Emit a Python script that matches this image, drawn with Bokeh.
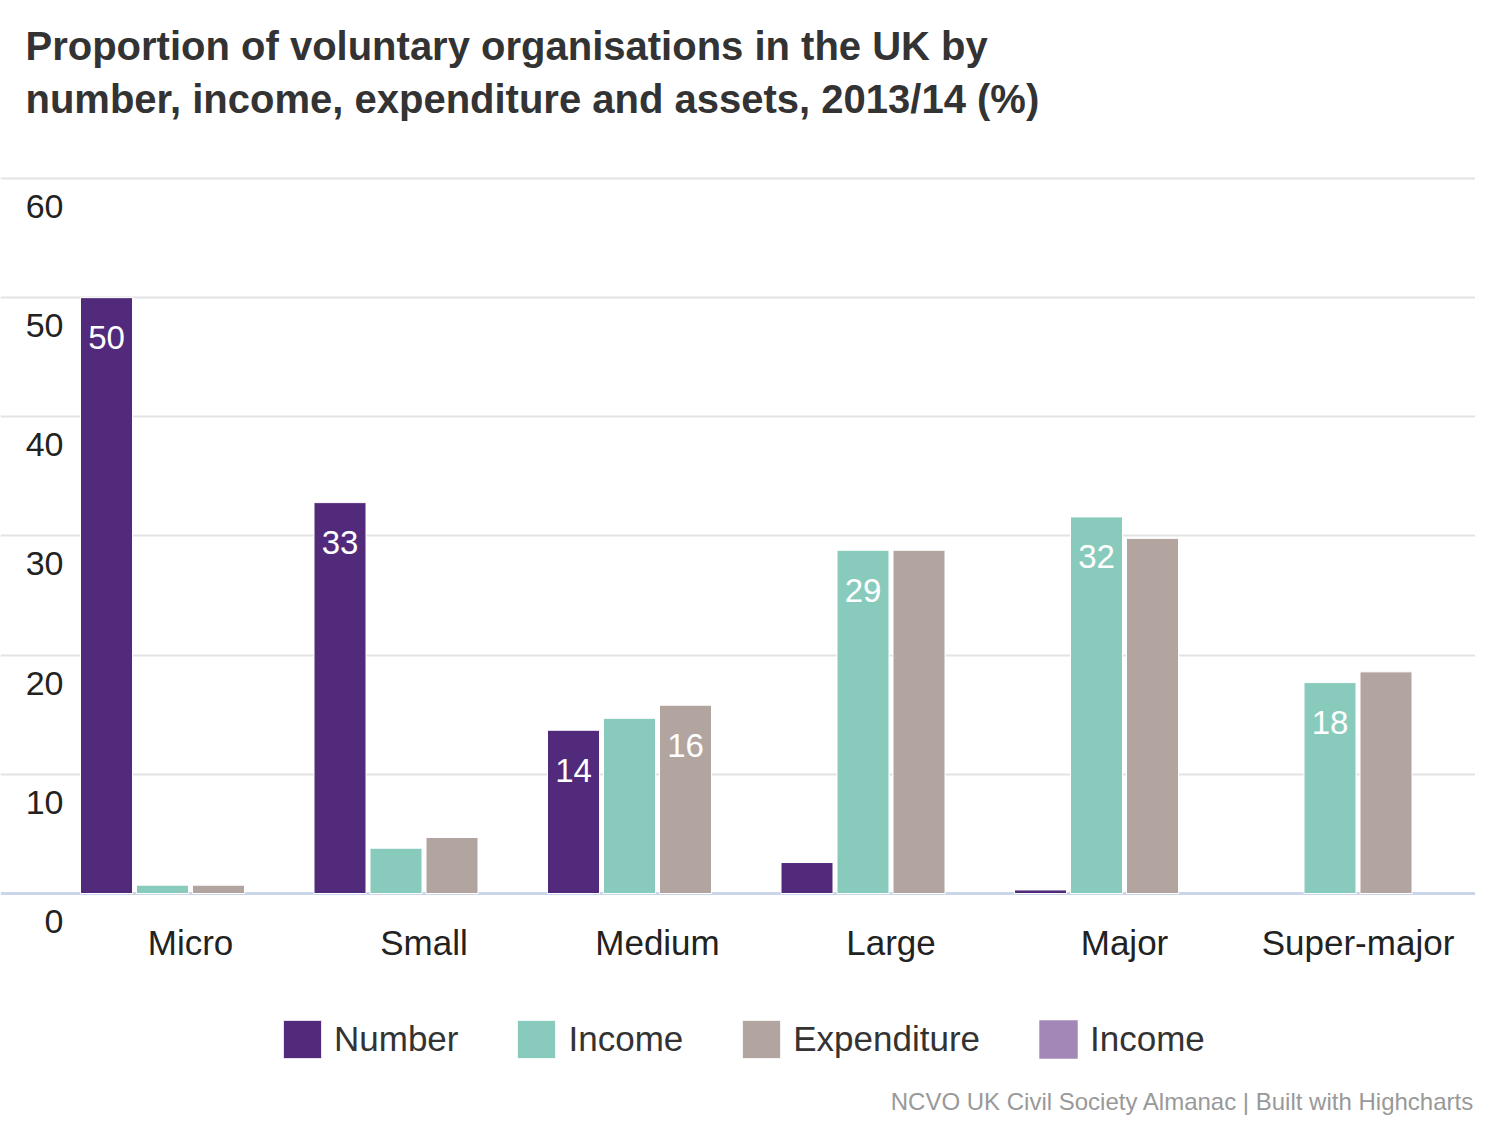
from bokeh.plotting import figure
from bokeh.models import ColumnDataSource, Range1d, Grid, FixedTicker, Span, Legend, LegendItem
from bokeh.transform import dodge
from bokeh.core.properties import value
from bokeh.embed import file_html
from bokeh.resources import INLINE

# ---------------- data ----------------
categories = ["Micro", "Small", "Medium", "Large", "Major", "Super-major"]
number = [50.0, 32.8, 13.7, 2.6, 0.3, 0.0]
income = [0.7, 3.8, 14.7, 28.8, 31.6, 17.7]
expenditure = [0.7, 4.7, 15.8, 28.8, 29.8, 18.6]
assets = [0.0, 0.0, 0.0, 0.0, 0.0, 0.0]
series_names = ["Number", "Income", "Expenditure", "Income"]
series_colors = ["#512a7c", "#88cbbd", "#b2a59f", "#a387b7"]
y_ticks = [0, 10, 20, 30, 40, 50, 60]
# data labels that are displayed: (series index, category index, text)
label_series = [0, 0, 0, 2, 1, 1, 1]
label_cats = [0, 1, 2, 2, 3, 4, 5]
label_texts = ["50", "33", "14", "16", "29", "32", "18"]

title_lines = ["Proportion of voluntary organisations in the UK by",
               "number, income, expenditure and assets, 2013/14 (%)"]
credits = "NCVO UK Civil Society Almanac | Built with Highcharts"

# ---------------- layout ----------------
W, H = 1475, 1117
OFF = 0
CAT_PX = 233.5             # pixels per category
CAT0_PX = 190              # page x of first category centre
UNIT_PX = 11.917           # pixels per y unit
ZERO_PY = 893              # page y of value 0

def dx(px):
    return (px - CAT0_PX) / CAT_PX

def dy(py):
    return (ZERO_PY - py) / UNIT_PX

FONT = value("Liberation Sans")

p = figure(width=W, height=H,
           x_range=Range1d(dx(OFF), dx(OFF + W)),
           y_range=Range1d(dy(OFF + H), dy(OFF)),
           x_axis_type=None, y_axis_type=None,
           toolbar_location=None, output_backend="svg",
           min_border=0, min_border_left=0, min_border_right=0,
           min_border_top=0, min_border_bottom=0,
           outline_line_color=None)

grid = Grid(dimension=1, ticker=FixedTicker(ticks=y_ticks[1:]),
            grid_line_color="#e3e3e3", grid_line_width=2)
p.add_layout(grid)
p.add_layout(Span(location=0, dimension="width", line_color="#ccd6eb",
                  line_width=3, level="underlay"))

series_vals = [number, income, expenditure, assets]
BAR_STEP = 56 / CAT_PX
BAR_W = 52 / CAT_PX
idx = list(range(len(categories)))
items = []
for j, (vals, name, col) in enumerate(zip(series_vals, series_names, series_colors)):
    off = (j - 1.5) * BAR_STEP
    src = ColumnDataSource(dict(x=idx, top=vals,
                                la=[1.0 if v > 0 else 0.0 for v in vals]))
    r = p.vbar(x=dodge("x", off, range=p.x_range), top="top", bottom=0,
               width=BAR_W, fill_color=col,
               line_color=("white" if j < 3 else None), line_alpha="la",
               line_width=1, source=src)
    items.append(LegendItem(label=name, renderers=[r]))

# data labels
lx = [c + (s - 1.5) * BAR_STEP for s, c in zip(label_series, label_cats)]
ly = [series_vals[s][c] - 40 / UNIT_PX for s, c in zip(label_series, label_cats)]
p.text(x=lx, y=ly, text=label_texts, text_font=FONT, text_font_size="33px",
       text_color="white", text_align="center", text_baseline="middle")

# y tick labels (drawn below their grid line)
p.text(x=[dx(63)] * len(y_ticks), y=[t - 28 / UNIT_PX for t in y_ticks],
       text=[str(t) for t in y_ticks], text_font=FONT, text_font_size="34px",
       text_color="#222222", text_align="right", text_baseline="middle")

# category labels
p.text(x=idx, y=[dy(942)] * len(idx), text=categories, text_font=FONT,
       text_font_size="35px", text_color="#222222", text_align="center",
       text_baseline="middle")

# title
p.text(x=[dx(25)] * 2, y=[dy(45), dy(98)], text=title_lines, text_font=FONT,
       text_font_style="bold", text_font_size="40px", text_color="#333333",
       text_align="left", text_baseline="middle")

# credits
p.text(x=[dx(1474)], y=[dy(1101)], text=[credits], text_font=FONT,
       text_font_size="24px", text_color="#999999", text_align="right",
       text_baseline="middle")

GLYPH = 48   # legend glyph box; bar swatch is drawn at 80% of it
legend = Legend(items=items, orientation="horizontal",
                location=(278 - OFF, (OFF + H) - 1063),
                glyph_width=GLYPH, glyph_height=GLYPH, label_standoff=8, spacing=54,
                padding=0, margin=0, border_line_color=None, background_fill_alpha=0,
                label_text_font="Liberation Sans", label_text_font_size="35px",
                label_text_color="#333333")
p.add_layout(legend)

open("out.html", "w").write(file_html(p, INLINE))
